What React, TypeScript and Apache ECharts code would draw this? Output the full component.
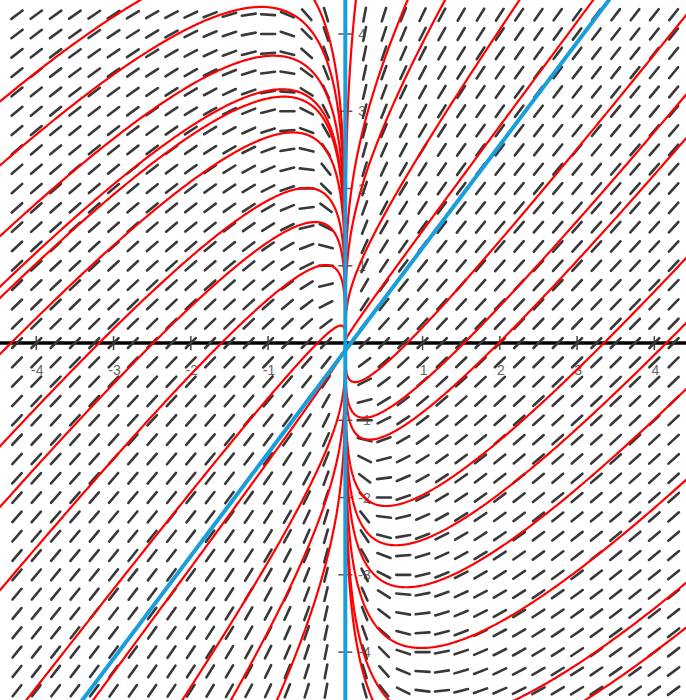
import React, { useEffect, useRef } from "react";
import * as echarts from "echarts";

// Direction field of  x·y' = a·y + b·x,  i.e.  y' = b + a·y / x
const COEF_Y = 0.25;
const COEF_CONST = 1;
// Straight-line solution y = k·x with k = b / (1 - a); general solution y = k·x + C·|x|^a
const LINE_SLOPE = COEF_CONST / (1 - COEF_Y);

// Visible window
const X_MIN = -4.47;
const X_MAX = 4.41;
const Y_MIN = -4.62;
const Y_MAX = 4.44;
const FIELD_STEP = 0.25;

// Integration constants C of the drawn solution curves (x > 0 and x < 0 branches)
const RIGHT_C = [7, 3.55, 2.55, 1.17, 0.12, -1.13, -1.84, -2.23, -3.3, -3.88, -4.47, -5.28, -6.2, -6.6];
const LEFT_C = [6.25, 5.68, 5.05, 4.6, 4.5, 4.0, 3.18, 2.64, 1.9, 0.62, -0.2, -1.5, -2.4, -3.55];

// two points of the highlighted slanted line (x, y)
const BLUE_LINE_POINTS = [
  [-3.305, -4.49],
  [3.413, 4.44],
];

const X_TICKS = [-4, -3, -2, -1, 1, 2, 3, 4];
const Y_TICKS = [-4, -3, -2, -1, 1, 2, 3, 4];

const slopeAt = (x: number, y: number) => COEF_CONST + (COEF_Y * y) / x;

// grid of sample points for the direction field (x = 0 column left out: slope undefined)
const fieldPoints: number[][] = [];
for (let i = Math.ceil(X_MIN / FIELD_STEP); i <= Math.floor(X_MAX / FIELD_STEP); i++) {
  if (i === 0) continue;
  for (let j = Math.ceil(Y_MIN / FIELD_STEP); j <= Math.floor(Y_MAX / FIELD_STEP); j++) {
    fieldPoints.push([i * FIELD_STEP, j * FIELD_STEP]);
  }
}

// solution branch y = k·x + C·|x|^a sampled in t = |x|^a so the vertical tangent at 0 is smooth
function solutionBranch(c: number, side: number): number[][] {
  const tMax = Math.pow(Math.max(-X_MIN, X_MAX) + 0.05, COEF_Y);
  const pts: number[][] = [];
  const n = 400;
  for (let i = 0; i <= n; i++) {
    const t = (tMax * i) / n;
    const x = side * Math.pow(t, 1 / COEF_Y);
    pts.push([x, LINE_SLOPE * x + c * t]);
  }
  return pts;
}

// the slanted line through the two stored points, extended across the window
function blueLine(): number[][] {
  const [[x1, y1], [x2, y2]] = BLUE_LINE_POINTS;
  const m = (y2 - y1) / (x2 - x1);
  const at = (x: number) => y1 + m * (x - x1);
  return [
    [X_MIN - 0.2, at(X_MIN - 0.2)],
    [X_MAX + 0.2, at(X_MAX + 0.2)],
  ];
}

const DASH_HALF = 7;

export default function App() {
  const ref = useRef<HTMLDivElement>(null);

  useEffect(() => {
    if (!ref.current) return;
    const chart = echarts.init(ref.current, undefined, { renderer: "svg" });

    const curveSeries: any[] = [];
    RIGHT_C.forEach((c) => curveSeries.push({ c, side: 1 }));
    LEFT_C.forEach((c) => curveSeries.push({ c, side: -1 }));

    const font = 'Arial, "Liberation Sans", sans-serif';

    const option: any = {
      animation: false,
      backgroundColor: "#ffffff",
      grid: { left: 0, right: 0, top: 0, bottom: 0, containLabel: false },
      xAxis: {
        type: "value",
        min: X_MIN,
        max: X_MAX,
        axisLine: { show: true, onZero: true, lineStyle: { color: "#000", width: 3.5 } },
        axisTick: { show: false },
        axisLabel: { show: false },
        splitLine: { show: false },
        z: 1,
      },
      yAxis: {
        type: "value",
        min: Y_MIN,
        max: Y_MAX,
        axisLine: { show: true, onZero: true, lineStyle: { color: "#777", width: 2 } },
        axisTick: { show: false },
        axisLabel: { show: false },
        splitLine: { show: false },
        z: 1,
      },
      series: [
        // tick marks and numbers on the x axis
        {
          type: "custom",
          z: 0,
          silent: true,
          data: X_TICKS.map((v) => [v, 0]),
          renderItem: (_p: any, api: any) => {
            const v = api.value(0);
            const [cx, cy] = api.coord([v, 0]);
            return {
              type: "group",
              children: [
                {
                  type: "line",
                  shape: { x1: cx, y1: cy - 7, x2: cx, y2: cy + 7 },
                  style: { stroke: "#444", lineWidth: 1.5 },
                },
                {
                  type: "text",
                  style: {
                    text: String(v),
                    x: cx + 1,
                    y: cy + 27,
                    fill: "#666",
                    font: `14px ${font}`,
                    align: "center",
                    verticalAlign: "middle",
                  },
                },
              ],
            };
          },
        },
        // tick marks and numbers on the y axis
        {
          type: "custom",
          z: 0,
          silent: true,
          data: Y_TICKS.map((v) => [0, v]),
          renderItem: (_p: any, api: any) => {
            const v = api.value(1);
            const [cx, cy] = api.coord([0, v]);
            return {
              type: "group",
              children: [
                {
                  type: "line",
                  shape: { x1: cx - 7, y1: cy, x2: cx + 7, y2: cy },
                  style: { stroke: "#555", lineWidth: 1.5 },
                },
                {
                  type: "text",
                  style: {
                    text: String(v),
                    x: cx + 13,
                    y: cy,
                    fill: "#666",
                    font: `14px ${font}`,
                    align: "left",
                    verticalAlign: "middle",
                  },
                },
              ],
            };
          },
        },
        // direction field
        {
          type: "custom",
          z: 2,
          silent: true,
          data: fieldPoints,
          renderItem: (_p: any, api: any) => {
            const x = api.value(0);
            const y = api.value(1);
            const m = slopeAt(x, y);
            const [cx, cy] = api.coord([x, y]);
            const [qx, qy] = api.coord([x + 0.01, y + 0.01 * m]);
            let dx = qx - cx;
            let dy = qy - cy;
            const len = Math.hypot(dx, dy) || 1;
            dx /= len;
            dy /= len;
            return {
              type: "line",
              shape: {
                x1: cx - dx * DASH_HALF,
                y1: cy - dy * DASH_HALF,
                x2: cx + dx * DASH_HALF,
                y2: cy + dy * DASH_HALF,
              },
              style: { stroke: "#383838", lineWidth: 2.6, lineCap: "round" },
            };
          },
        },
        // solution curves
        ...curveSeries.map((s) => ({
          type: "line",
          z: 3,
          silent: true,
          clip: true,
          showSymbol: false,
          symbol: "none",
          data: solutionBranch(s.c, s.side),
          lineStyle: { color: "#ff0000", width: 2.2 },
        })),
        // highlighted straight lines: slanted one and x = 0
        {
          type: "line",
          z: 4,
          silent: true,
          clip: true,
          symbol: "none",
          data: blueLine(),
          lineStyle: { color: "#1a9edb", width: 4 },
        },
        {
          type: "line",
          z: 4,
          silent: true,
          clip: true,
          symbol: "none",
          data: [
            [0, Y_MIN],
            [0, Y_MAX],
          ],
          lineStyle: { color: "#1a9edb", width: 4 },
        },
      ],
    };

    chart.setOption(option);
    return () => chart.dispose();
  }, []);

  return (
    <div
      ref={ref}
      style={{ position: "absolute", left: 0, top: 0, width: 686, height: 700, background: "#fff" }}
    />
  );
}
